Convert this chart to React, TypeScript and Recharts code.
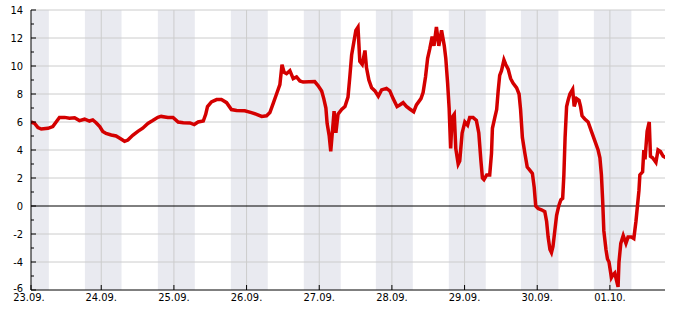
import { LineChart, Line, XAxis, YAxis, ReferenceArea, ReferenceLine } from "recharts";

// hodiny od 23.09. 00:00 a teplota °C
const hours = [
  0.8, 2.0, 3.1, 4.2, 6.4, 8.0, 9.1, 10.2, 11.9, 13.5, 15.2, 16.8, 18.5, 20.1, 21.2, 22.3, 23.5,
  24.5, 25.6, 27.3, 28.9, 30.0, 31.7, 32.8, 34.4, 36.1, 37.7, 39.4, 41.0, 42.7, 43.8, 46.0, 47.7,
  49.4, 51.1, 53.3, 54.7, 56.0, 57.7, 58.5, 59.1, 60.4, 62.1, 63.7, 65.4, 67.0, 68.7, 71.4, 73.6,
  75.3, 77.0, 78.6, 79.7, 80.8, 81.9, 83.0, 83.7, 84.4, 85.2, 86.3, 87.4, 88.5, 89.6, 90.7,
  94.5, 95.6, 96.8, 97.5, 98.2, 98.6, 99.3, 99.8, 100.4, 100.9, 101.5, 102.2, 103.4, 104.5, 105.5,
  106.1, 106.7, 107.4, 108.1, 108.8, 109.4, 110.2, 111.1, 111.6, 112.4, 113.3, 114.4, 115.5, 116.6,
  118.2, 119.3, 120.4, 121.7, 122.6, 123.7, 124.8, 125.9, 127.2, 128.1, 129.6, 130.3, 131.1, 131.8,
  132.5, 133.3, 133.9, 134.7, 135.5, 136.4, 137.3, 137.8, 138.4, 138.9, 139.4, 139.9, 140.6, 141.1,
  141.9, 142.4, 143.2, 144.1, 145.0, 145.7, 146.8, 147.9, 148.7, 149.4, 149.9, 150.4, 151.3, 152.3,
  152.9, 153.2, 154.0, 154.6, 155.1, 155.6, 156.2, 157.0, 157.6, 158.4, 159.2, 160.0, 161.2, 162.0,
  162.5, 163.1, 163.9, 164.7, 165.6, 166.4, 167.0, 167.5, 168.3, 169.4, 170.5, 171.1, 171.6, 172.2,
  172.7, 173.2, 173.8, 174.4, 175.1, 175.8, 176.4, 176.8, 177.2, 177.7, 178.2, 178.8, 179.7, 180.2,
  181.0, 181.8, 182.3, 182.8, 183.7, 184.8, 185.9, 187.0, 188.1, 188.7, 189.2, 189.6, 190.0, 190.7,
  191.2, 191.7, 192.5, 193.1, 193.6, 194.2, 194.7, 195.0, 195.6, 196.4, 197.3, 198.0, 199.1, 199.9,
  200.6, 201.1, 201.6, 201.9, 202.8, 203.2, 203.6, 204.3, 205.0, 205.4, 206.1, 207.2, 207.9, 208.7,
  209.6, 210.5,
];
const temps = [
  6.0, 5.9, 5.6, 5.5, 5.55, 5.67, 6.0, 6.33, 6.33, 6.27, 6.3, 6.1, 6.2, 6.07, 6.15, 5.95, 5.67,
  5.33, 5.18, 5.07, 5.0, 4.85, 4.62, 4.71, 5.05, 5.33, 5.56, 5.9, 6.1, 6.33, 6.4, 6.33, 6.33,
  6.0, 5.95, 5.93, 5.82, 6.0, 6.07, 6.55, 7.1, 7.44, 7.6, 7.6, 7.38, 6.89, 6.82, 6.8, 6.67,
  6.55, 6.4, 6.44, 6.67, 7.33, 8.0, 8.67, 10.1, 9.55, 9.45, 9.67, 9.1, 9.22, 8.93, 8.85,
  8.89, 8.6, 8.22, 7.67, 7.0, 5.9, 5.0, 3.9, 5.44, 6.78, 5.22, 6.55, 6.89, 7.11, 7.78,
  9.22, 10.78, 11.67, 12.55, 12.78, 10.33, 10.11, 11.11, 9.89, 9.0, 8.44, 8.22, 7.84, 8.29,
  8.4, 8.22, 7.67, 7.11, 7.22, 7.38, 7.11, 6.93, 6.73, 7.22, 7.67, 8.11, 9.22, 10.55,
  11.22, 12.11, 11.44, 12.78, 11.44, 12.55, 11.44, 10.55, 8.78, 7.0, 4.11, 6.33, 6.55, 4.11,
  3.0, 3.22, 5.22, 6.0, 5.78, 6.33, 6.33, 6.11, 5.22, 3.22, 2.0, 1.89, 2.22, 2.22,
  3.78, 5.55, 6.33, 6.89, 8.22, 9.33, 9.67, 10.44, 10.11, 9.78, 9.11, 8.78, 8.44, 8.0,
  6.89, 4.89, 3.78, 2.78, 2.55, 2.33, 1.33, 0.0, -0.18, -0.27, -0.4, -1.11, -2.22, -3.11,
  -3.33, -2.89, -1.78, -0.67, 0.0, 0.44, 0.55, 2.22, 4.89, 7.11, 7.55, 8.0, 8.33, 7.11,
  7.67, 7.55, 7.11, 6.44, 6.22, 6.0, 5.33, 4.67, 4.0, 3.44, 2.22, 0.44, -1.78, -3.11,
  -3.78, -4.0, -5.11, -4.89, -4.78, -5.33, -5.78, -4.0, -2.67, -2.11, -2.67, -2.22, -2.22, -2.33,
  -1.11, 0.0, 1.11, 2.22, 2.44, 4.0, 3.33, 5.33, 6.0, 3.55, 3.44, 3.11, 4.0, 3.89,
  3.55, 3.44,
];

const dayTicks = [0.8, 24, 48, 72, 96, 120, 144, 168, 192];
const dayLabels = ["23.09.", "24.09.", "25.09.", "26.09.", "27.09.", "28.09.", "29.09.", "30.09.", "01.10."];
const nightStart = [0.8, 18.6, 42.7, 66.8, 90.9, 114.7, 138.8, 162.6, 186.7];
const nightEnd = [6.7, 30.7, 54.9, 79.0, 103.1, 126.9, 151.0, 175.0, 199.1];
const yTicks = [-6, -5, -4, -3, -2, -1, 0, 1, 2, 3, 4, 5, 6, 7, 8, 9, 10, 11, 12, 13, 14];
const gridY = [-4, -2, 2, 4, 6, 8, 10, 12, 14];

const data = hours.map((h, i) => ({ h, t: temps[i] }));
const FONT = "'DejaVu Sans Condensed', 'DejaVu Sans', sans-serif";

function YTick(props: any) {
  const { x, y, payload } = props;
  const v = payload.value as number;
  const major = v % 2 === 0;
  return (
    <g>
      <line x1={x} x2={x + (major ? 5 : 3)} y1={y} y2={y} stroke="#000" />
      {major && (
        <text x={x - 8} y={v === -6 ? y - 2 : y} textAnchor="end" dominantBaseline="central" fontSize={11} fontFamily={FONT} fill="#000">
          {v}
        </text>
      )}
    </g>
  );
}

function XTick(props: any) {
  const { x, y, index } = props;
  return (
    <g>
      <line x1={x} x2={x} y1={y} y2={y - 5} stroke="#000" />
      <text x={index === 0 ? x - 2 : x} y={y + 11} textAnchor="middle" fontSize={11} fontFamily={FONT} fill="#000">
        {dayLabels[index]}
      </text>
    </g>
  );
}

export default function App() {
  return (
    <div style={{ position: "absolute", left: 0, top: 0, width: 685, height: 330, background: "#fff" }}>
      <LineChart width={685} height={330} data={data} margin={{ top: 10, right: 20, bottom: 20, left: 0 }}>
        <XAxis
          type="number"
          dataKey="h"
          domain={[0.8, 210.2]}
          allowDataOverflow
          ticks={dayTicks}
          interval={0}
          tickSize={0}
          tickMargin={0}
          tickLine={false}
          axisLine={{ stroke: "#000" }}
          tick={<XTick />}
          height={20}
        />
        <YAxis
          type="number"
          domain={[-6, 14]}
          ticks={yTicks}
          interval={0}
          tickSize={0}
          tickMargin={0}
          tickLine={false}
          axisLine={{ stroke: "#000" }}
          tick={<YTick />}
          width={31}
        />
        {nightStart.map((s, i) => (
          <ReferenceArea key={"n" + i} x1={s} x2={nightEnd[i]} y1={-6} y2={14} fill="#e9eaf0" fillOpacity={1} stroke="none" ifOverflow="hidden" />
        ))}
        {gridY.map((v) => (
          <ReferenceLine key={"gy" + v} y={v} stroke="#cccccc" />
        ))}
        {dayTicks.slice(1).map((v) => (
          <ReferenceLine key={"gx" + v} x={v} stroke="#cccccc" />
        ))}
        <ReferenceLine y={0} stroke="#000" />
        <Line
          type="linear"
          dataKey="t"
          stroke="#d40000"
          strokeWidth={3.5}
          dot={false}
          isAnimationActive={false}
        />
      </LineChart>
    </div>
  );
}
